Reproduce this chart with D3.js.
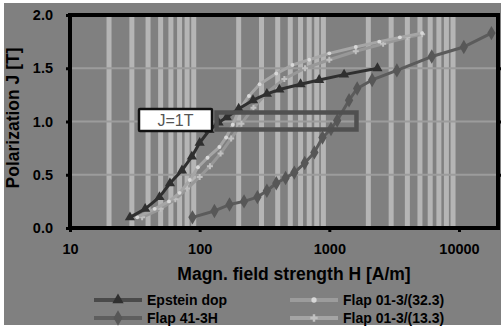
<!DOCTYPE html>
<html>
<head>
<meta charset="utf-8">
<script src="https://cdn.jsdelivr.net/npm/d3@7"></script>
<style>
  html, body { margin: 0; padding: 0; background: #ffffff; }
  svg { display: block; }
  text { font-family: "Liberation Sans", Arial, sans-serif; }
</style>
</head>
<body>
<svg id="chart" width="501" height="331"></svg>
<script>
// Magnetisation curves: polarization J [T] over field strength H [A/m]
const seriesNames = ["Epstein dop", "Flap 41-3H", "Flap 01-3/(32.3)", "Flap 01-3/(13.3)"];

const epsteinH = [29, 38, 49, 59, 73, 87, 100, 119, 140, 162, 200, 258, 330, 412, 600, 835, 1300, 2350];
const epsteinJ = [0.10, 0.18, 0.29, 0.42, 0.54, 0.67, 0.80, 0.92, 0.99, 1.04, 1.12, 1.20, 1.26, 1.30, 1.35, 1.39, 1.44, 1.50];

const flap41H = [88, 130, 170, 220, 279, 330, 390, 460, 537, 646, 767, 886, 1030, 1150, 1420, 1640, 2140, 3320, 6170, 10900, 17800];
const flap41J = [0.10, 0.16, 0.22, 0.25, 0.29, 0.35, 0.42, 0.47, 0.52, 0.61, 0.71, 0.85, 0.93, 1.01, 1.20, 1.31, 1.39, 1.48, 1.61, 1.70, 1.83];

const flap32H = [33, 45, 58, 70, 84, 97, 115, 142, 160, 180, 200, 240, 290, 390, 519, 700, 1000, 1600, 2430, 3500, 5190];
const flap32J = [0.10, 0.18, 0.25, 0.33, 0.45, 0.57, 0.66, 0.76, 0.85, 0.97, 1.10, 1.24, 1.35, 1.45, 1.53, 1.58, 1.64, 1.70, 1.75, 1.79, 1.83];

const flap13H = [36, 50, 65, 80, 100, 120, 145, 175, 210, 260, 330, 450, 650, 1000, 1600, 2600, 4000, 5200];
const flap13J = [0.10, 0.18, 0.27, 0.37, 0.48, 0.58, 0.70, 0.84, 0.98, 1.13, 1.27, 1.40, 1.50, 1.58, 1.66, 1.73, 1.79, 1.82];

const xTickValues = [10, 100, 1000, 10000];
const xTickLabels = ["10", "100", "1000", "10000"];
const yTickValues = [0.0, 0.5, 1.0, 1.5, 2.0];
const yTickLabels = ["0.0", "0.5", "1.0", "1.5", "2.0"];
const xDomain = [10, 20000];
const yDomain = [0, 2];

const annotationLabel = "J=1T";
const annotationJ = 1.0;
const annotationH = [135, 1620];   // span of the marked region at J=1T
const xTitle = "Magn. field strength H [A/m]";
const yTitle = "Polarization J [T]";

// ---- layout ----
const svg = d3.select("#chart");
const W = 501;
const plot = { left: 70, right: 498, top: 15, bottom: 228 };

svg.append("rect").attr("x", 4).attr("y", 3).attr("width", W - 4).attr("height", 322)
  .attr("fill", "#808080");

const x = d3.scaleLog().domain(xDomain).range([plot.left, plot.right]);
const y = d3.scaleLinear().domain(yDomain).range([plot.bottom, plot.top]);

// minor vertical grid (2..9 of each decade)
const minorTicks = [];
[10, 100, 1000].forEach(d => { for (let k = 2; k <= 9; k++) minorTicks.push(d * k); });
svg.append("g").selectAll("line").data(minorTicks).join("line")
  .attr("x1", d => x(d)).attr("x2", d => x(d))
  .attr("y1", plot.top).attr("y2", plot.bottom)
  .attr("stroke", "#b5b5b5").attr("stroke-width", 5);

// horizontal grid
svg.append("g").selectAll("line").data(yTickValues.filter(v => v > 0 && v < 2)).join("line")
  .attr("x1", plot.left).attr("x2", plot.right)
  .attr("y1", d => y(d)).attr("y2", d => y(d))
  .attr("stroke", "#9c9c9c").attr("stroke-width", 2);

// ---- series ----
const series = [
  { name: seriesNames[0], h: epsteinH, j: epsteinJ, color: "#2f2f2f", legendColor: "#4a4a4a", marker: "triangle", mfill: "#2f2f2f" },
  { name: seriesNames[1], h: flap41H, j: flap41J, color: "#5b5b5b", legendColor: "#5e5e5e", marker: "diamond", mfill: "#575757" },
  { name: seriesNames[2], h: flap32H, j: flap32J, color: "#a6a6a6", legendColor: "#9c9c9c", marker: "circle", mfill: "#d8d8d8" },
  { name: seriesNames[3], h: flap13H, j: flap13J, color: "#989898", legendColor: "#a4a4a4", marker: "cross", mfill: "#c0c0c0" }
];

const symbolType = { triangle: d3.symbolTriangle, diamond: d3.symbolDiamond, circle: d3.symbolCircle, cross: d3.symbolCross };
const symbolSize = { triangle: 45, diamond: 60, circle: 12, cross: 20 };

const line = d3.line().x(d => x(d[0])).y(d => y(d[1]));

// draw from back to front so the dark curve stays on top
[3, 2, 1, 0].forEach(i => {
  const s = series[i];
  const pts = s.h.map((h, k) => [h, s.j[k]]);
  const g = svg.append("g");
  g.append("path").datum(pts).attr("d", line)
    .attr("fill", "none").attr("stroke", s.color).attr("stroke-width", 3)
    .attr("stroke-linejoin", "round");
  g.selectAll("path.m").data(pts).join("path").attr("class", "m")
    .attr("transform", d => `translate(${x(d[0])},${y(d[1])})`)
    .attr("d", d3.symbol().type(symbolType[s.marker]).size(symbolSize[s.marker]))
    .attr("fill", s.mfill);
});

// ---- annotation: J = 1 T ----
const boxX0 = x(annotationH[0]), boxX1 = x(annotationH[1]);
svg.append("rect")
  .attr("x", boxX0).attr("y", y(annotationJ) - 9)
  .attr("width", boxX1 - boxX0).attr("height", 17)
  .attr("fill", "none").attr("stroke", "#505050").attr("stroke-width", 4.5);

svg.append("rect").attr("x", 139).attr("y", 109).attr("width", 73).attr("height", 22)
  .attr("fill", "#ffffff").attr("stroke", "#111").attr("stroke-width", 2.5).attr("rx", 1);
svg.append("text").attr("x", 175.5).attr("y", 126).attr("text-anchor", "middle")
  .attr("font-size", 16).attr("fill", "#555").text(annotationLabel);

// ---- frame and axes ----
svg.append("rect").attr("x", plot.left).attr("y", plot.top)
  .attr("width", plot.right - plot.left).attr("height", plot.bottom - plot.top)
  .attr("fill", "none").attr("stroke", "#000").attr("stroke-width", 4);

const xAxis = d3.axisBottom(x).tickValues(xTickValues)
  .tickFormat((d, i) => xTickLabels[i]).tickSize(4).tickPadding(12);
const gx = svg.append("g").attr("transform", `translate(0,${plot.bottom})`).call(xAxis);
gx.select(".domain").remove();
gx.selectAll(".tick line").attr("stroke", "#000").attr("stroke-width", 3);
gx.selectAll(".tick text").attr("font-size", 14.5).attr("font-weight", "bold")
  .attr("fill", "#000").attr("font-family", "Liberation Sans, Arial, sans-serif");

const yAxis = d3.axisLeft(y).tickValues(yTickValues)
  .tickFormat((d, i) => yTickLabels[i]).tickSize(4).tickPadding(13);
const gy = svg.append("g").attr("transform", `translate(${plot.left},0)`).call(yAxis);
gy.select(".domain").remove();
gy.selectAll(".tick line").attr("stroke", "#000").attr("stroke-width", 3);
gy.selectAll(".tick text").attr("font-size", 14.5).attr("font-weight", "bold")
  .attr("fill", "#000").attr("font-family", "Liberation Sans, Arial, sans-serif");

const yAxisR = d3.axisRight(y).tickValues(yTickValues.filter(v => v > 0 && v < 2))
  .tickFormat("").tickSize(3);
const gyr = svg.append("g").attr("transform", `translate(${plot.right},0)`).call(yAxisR);
gyr.select(".domain").remove();
gyr.selectAll(".tick line").attr("stroke", "#000").attr("stroke-width", 3);

// axis titles
svg.append("text").attr("x", 294).attr("y", 280).attr("text-anchor", "middle")
  .attr("font-size", 17.5).attr("font-weight", "bold").attr("fill", "#000").text(xTitle);
svg.append("text").attr("transform", "translate(19,118) rotate(-90)").attr("text-anchor", "middle")
  .attr("font-size", 17.5).attr("font-weight", "bold").attr("fill", "#000").text(yTitle);

// ---- legend ----
const legendPos = [[94, 300], [94, 318], [290, 300], [290, 318]];
series.forEach((s, i) => {
  const [lx, ly] = legendPos[i];
  const g = svg.append("g").attr("transform", `translate(${lx},${ly})`);
  g.append("line").attr("x1", 0).attr("x2", 48).attr("y1", 0).attr("y2", 0)
    .attr("stroke", s.legendColor).attr("stroke-width", 4);
  g.append("path").attr("transform", "translate(24,0)")
    .attr("d", d3.symbol().type(symbolType[s.marker]).size(symbolSize[s.marker] + 10))
    .attr("fill", s.mfill);
  g.append("text").attr("x", 53).attr("y", 5).attr("font-size", 14).attr("font-weight", "bold")
    .attr("fill", "#000").text(s.name);
});
</script>
</body>
</html>
